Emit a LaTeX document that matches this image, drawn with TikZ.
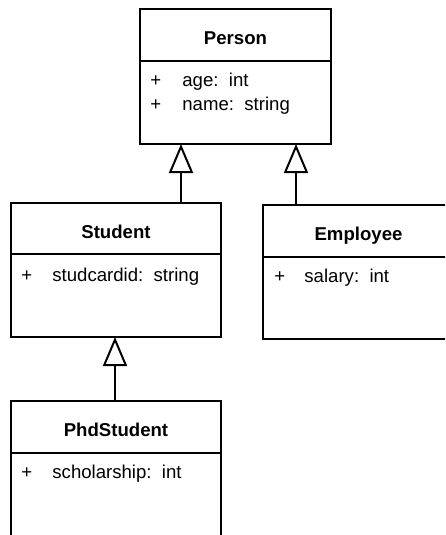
\documentclass[tikz,border=0pt]{standalone}
\usepackage{fontspec}
\setmainfont{Liberation Sans}
\usetikzlibrary{arrows.meta}
\begin{document}
\begin{tikzpicture}[x=0.5pt,y=-0.5pt,
  box/.style={draw=black,line width=1pt,fill=white,inner sep=0pt},
  ttl/.style={anchor=base,font=\fontsize{9.3}{11}\selectfont\bfseries,inner sep=0pt},
  attr/.style={anchor=base west,font=\fontsize{9.3}{11}\selectfont,inner sep=0pt},
  divl/.style={line width=1pt},
  inh/.style={line width=1pt,-{Triangle[open,width=12pt,length=14.5pt,line width=1pt]}}]
\useasboundingbox (0,0) rectangle (445,535);
\clip (0,0) rectangle (445,535);
% Person
\node[box,minimum width=95.5pt,minimum height=67.5pt] (person) at (235.5,76.5) {};
\draw[divl] (140,61) -- (331,61);
\node[ttl] (pt) at (235.5,44.5) {Person};
\node[attr] (pa1) at (150,87) {+};
\node[attr] (pa1t) at (182,87) {age:\ \ int};
\node[attr] (pa2) at (150,111) {+};
\node[attr] (pa2t) at (182,111) {name:\ \ string};
% Student
\node[box,minimum width=105pt,minimum height=67pt] (student) at (116,270) {};
\draw[divl] (11,254) -- (221,254);
\node[ttl] (st) at (116,238) {Student};
\node[attr] (sa1) at (21,281) {+};
\node[attr] (sa1t) at (52,281) {studcardid:\ \ string};
% Employee
\node[box,minimum width=95.5pt,minimum height=67pt] (employee) at (358.5,272) {};
\draw[divl] (263,257) -- (454,257);
\node[ttl] (et) at (358.5,240) {Employee};
\node[attr] (ea1) at (274,282) {+};
\node[attr] (ea1t) at (304,282) {salary:\ \ int};
% PhdStudent
\node[box,minimum width=105pt,minimum height=70pt] (phd) at (116,471) {};
\draw[divl] (11,453) -- (221,453);
\node[ttl] (pht) at (116,436) {PhdStudent};
\node[attr] (pha1) at (21,478) {+};
\node[attr] (pha1t) at (52,478) {scholarship:\ \ int};
% inheritance
\coordinate (c1) at (181,144);
\coordinate (c2) at (296,144);
\coordinate (c3) at (115,337);
\draw[inh] (c1 |- student.north) -- (c1);
\draw[inh] (c2 |- employee.north) -- (c2);
\draw[inh] (c3 |- phd.north) -- (c3);
\end{tikzpicture}
\end{document}
